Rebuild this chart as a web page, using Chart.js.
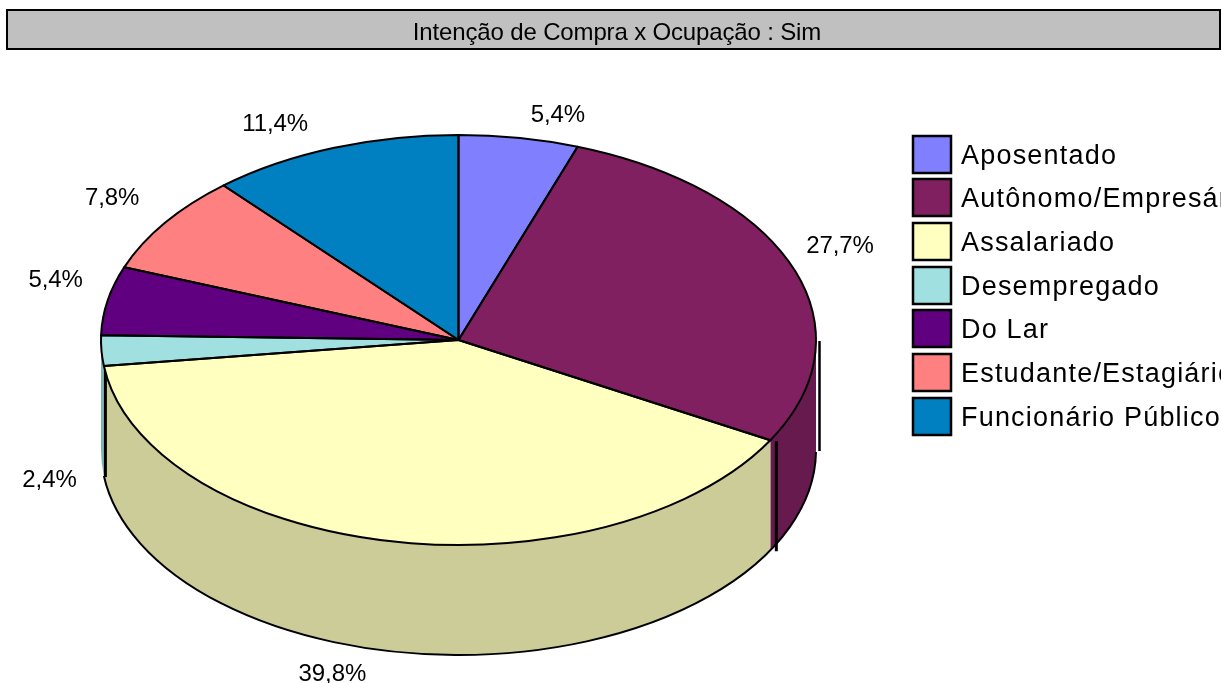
<!DOCTYPE html>
<html><head><meta charset="utf-8">
<style>html,body{margin:0;padding:0;background:#fff}#wrap{position:relative;width:1221px;height:683px;overflow:hidden}</style>
<script src="https://cdn.jsdelivr.net/npm/chart.js@4"></script>
</head><body><div id="wrap"><canvas id="c" width="1221" height="683"></canvas></div>
<script>
const chartTitle = "Intenção de Compra x Ocupação : Sim";
const categories = ["Aposentado","Autônomo/Empresário","Assalariado","Desempregado","Do Lar","Estudante/Estagiário","Funcionário Público"];
const values = [5.4,27.7,39.8,2.4,5.4,7.8,11.4];
const valueLabels = ["5,4%","27,7%","39,8%","2,4%","5,4%","7,8%","11,4%"];
const topColors = ["#8080FF","#802060","#FFFFC0","#A0E0E0","#600080","#FF8080","#0080C0"];
const wallColors = ["#6666CC","#661A4D","#CCCC99","#80B3B3","#4D0066","#CC6666","#006699"];
const labelNudge = [[39,-23],[47,-21],[-58,133],[-52,130],[-52,-20],[-53,-24],[-58,-24]];

const tilt = 205/357.5, depth = 110, FONT = '"Liberation Sans", Arial, sans-serif';

function wallAndOutline(chart, ctx){
  const arcs = chart.getDatasetMeta(0).data;
  const x = arcs[0].x, y = arcs[0].y, rx = arcs[0].outerRadius, ry = rx*tilt;
  ctx.save();
  arcs.forEach((a,i)=>{
    const lo = Math.max(a.startAngle,0), hi = Math.min(a.endAngle,Math.PI);
    if (hi<=lo) return;
    ctx.beginPath();
    ctx.ellipse(x,y,rx,ry,0,lo,hi);
    ctx.ellipse(x,y+depth,rx,ry,0,hi,lo,true);
    ctx.closePath();
    ctx.fillStyle = wallColors[i];
    ctx.fill();
  });
  ctx.strokeStyle="#000"; ctx.lineWidth=2;
  ctx.beginPath();
  ctx.ellipse(x,y+depth,rx,ry,0,0.01,arcs[2].endAngle);
  ctx.stroke();
  const edge=(ang,dx,w)=>{
    const ex=x+rx*Math.cos(ang)+dx, ey=y+ry*Math.sin(ang);
    ctx.lineWidth=w; ctx.beginPath(); ctx.moveTo(ex,ey+1); ctx.lineTo(ex,ey+depth+1); ctx.stroke();
  };
  edge(0,3.5,2.5);
  edge(arcs[2].startAngle,6,3);
  edge(arcs[2].endAngle,1.5,3);
  ctx.restore();
}

const pie3d = {
  id:'pie3d',
  beforeDraw(chart){
    const ctx=chart.ctx;
    ctx.save();
    ctx.fillStyle="#C0C0C0"; ctx.strokeStyle="#000"; ctx.lineWidth=2;
    ctx.fillRect(7,10,1213,39);
    ctx.strokeRect(7,10,1213,39);
    ctx.fillStyle="#000"; ctx.font='24px '+FONT; ctx.letterSpacing='-0.15px';
    ctx.textAlign='center'; ctx.textBaseline='alphabetic';
    ctx.fillText(chartTitle,617,40);
    ctx.restore();
  },
  beforeDatasetDraw(chart){
    const ctx=chart.ctx, a=chart.getDatasetMeta(0).data[0];
    wallAndOutline(chart,ctx);
    ctx.save();
    ctx.translate(a.x,a.y); ctx.scale(1,tilt); ctx.translate(-a.x,-a.y);
  },
  afterDatasetDraw(chart){
    const ctx=chart.ctx, arcs=chart.getDatasetMeta(0).data;
    ctx.strokeStyle="#000"; ctx.lineWidth=2; ctx.lineJoin='round';
    arcs.forEach(a=>{
      ctx.beginPath();
      ctx.moveTo(a.x,a.y);
      ctx.arc(a.x,a.y,a.outerRadius,a.startAngle,a.endAngle);
      ctx.closePath();
      ctx.save(); ctx.setTransform(1,0,0,1,0,0); ctx.stroke(); ctx.restore();
    });
    ctx.restore();
  },
  afterDraw(chart){
    const ctx=chart.ctx, arcs=chart.getDatasetMeta(0).data;
    ctx.save();
    ctx.fillStyle="#000"; ctx.font='24px '+FONT; ctx.letterSpacing='-0.1px';
    ctx.textAlign='center'; ctx.textBaseline='middle';
    arcs.forEach((a,i)=>{
      const mid=(a.startAngle+a.endAngle)/2;
      const ex=a.x+a.outerRadius*Math.cos(mid), ey=a.y+a.outerRadius*tilt*Math.sin(mid);
      ctx.fillText(valueLabels[i],ex+labelNudge[i][0],ey+labelNudge[i][1]);
    });
    ctx.textAlign='left'; ctx.textBaseline='alphabetic';
    ctx.font='27px '+FONT; ctx.letterSpacing='1.2px';
    categories.forEach((c,i)=>{
      const top=135.5+i*43.7;
      ctx.fillStyle=topColors[i]; ctx.strokeStyle="#000"; ctx.lineWidth=2.5;
      ctx.fillRect(913,Math.round(top),38,37);
      ctx.strokeRect(913,Math.round(top),38,37);
      ctx.fillStyle="#000";
      ctx.fillText(c,961,top+28);
    });
    ctx.restore();
  }
};

new Chart(document.getElementById('c'),{
  type:'pie',
  data:{labels:categories,datasets:[{data:values,backgroundColor:topColors,borderWidth:0,radius:357.5,clip:false}]},
  options:{
    responsive:false,animation:false,events:[],
    layout:{padding:{left:0,right:304,top:0,bottom:3}},
    plugins:{legend:{display:false},title:{display:false},tooltip:{enabled:false}}
  },
  plugins:[pie3d]
});
</script></body></html>
